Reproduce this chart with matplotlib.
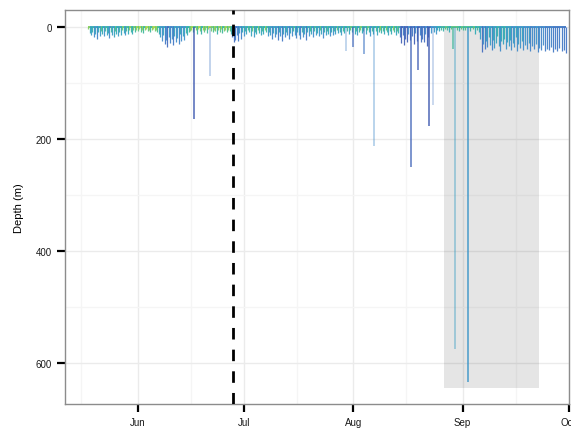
import matplotlib
matplotlib.use("Agg")
import matplotlib.pyplot as plt
import matplotlib.dates as mdates
from matplotlib.colors import LinearSegmentedColormap
from matplotlib.patches import Rectangle
import numpy as np

plt.rcParams['font.family'] = ['Liberation Sans', 'DejaVu Sans']

# days since 1 May, max depth (m), colour value (0 = dark blue, 1 = yellow-green)
diveDays = [17.0, 17.4, 17.8, 18.2, 18.6, 19.0, 19.4, 19.8, 20.2, 20.6, 21.0, 21.4, 21.8, 22.2, 22.6,
            23.0, 23.4, 23.8, 24.2, 24.6, 25.0, 25.4, 25.8, 26.2, 26.6, 27.0, 27.4, 27.8, 28.2, 28.6,
            29.0, 29.4, 29.8, 30.2, 30.6,
            31.0, 31.4, 31.8, 32.2, 32.6, 33.0, 33.4, 33.8, 34.2, 34.6, 35.0, 35.4, 35.8, 36.2, 36.6,
            37.0, 37.4, 37.8, 38.2, 38.6, 39.0, 39.4, 39.8, 40.2, 40.6, 41.0, 41.4, 41.8, 42.2, 42.6,
            43.0, 43.4, 43.8, 44.2, 44.6, 45.0, 45.4,
            45.8, 46.2, 46.6, 47.4, 47.8, 48.2, 48.6, 49.0, 49.4, 49.8, 50.2, 50.6, 51.0, 51.8, 52.2,
            52.6, 53.0, 53.4, 53.8, 54.2, 54.6, 55.0, 55.4, 55.8, 56.2, 56.6, 57.0, 57.4,
            57.8, 58.2, 58.6, 59.0, 59.4, 59.8, 60.2, 60.6, 61.0, 61.4, 61.8, 62.2,
            62.6, 63.0, 63.4, 63.8, 64.2, 64.6, 65.0, 65.4, 65.8, 66.2, 66.6, 67.0, 67.4, 67.8, 68.2,
            68.6, 69.0, 69.4, 69.8, 70.2, 70.6, 71.0, 71.4, 71.8, 72.2, 72.6, 73.0, 73.4, 73.8, 74.2,
            74.6, 75.0, 75.4, 75.8, 76.2,
            76.6, 77.0, 77.4, 77.8, 78.2, 78.6, 79.0, 79.4, 79.8, 80.2, 80.6, 81.0, 81.4, 81.8, 82.2,
            82.6, 83.0, 83.4, 83.8, 84.2, 84.6, 85.0, 85.4, 85.8, 86.2, 86.6, 87.0, 87.4, 87.8,
            88.2, 88.6, 89.0, 89.4, 90.4, 90.8, 91.2, 91.6, 92.4, 92.8, 93.2, 93.6, 94.0, 94.4, 94.8,
            95.6, 96.0, 96.4, 96.8, 97.2, 97.6, 98.4, 98.8, 99.2, 99.6, 100.0, 100.4, 100.8, 101.2,
            101.6, 102.0, 102.4, 102.8, 103.2, 103.6, 104.0, 104.4, 104.8,
            105.2, 105.6, 106.0, 106.4, 106.8, 107.2, 107.6, 108.0, 108.8, 109.2, 109.6, 110.0, 110.8,
            111.2, 111.6, 112.0, 112.4, 112.8, 113.2, 114.0, 115.0, 115.4, 115.8, 116.2,
            116.8, 117.4, 118.0, 118.6, 119.2, 119.8, 121.4, 122.0, 122.6, 123.2, 123.8, 125.2, 125.8,
            126.4, 127.0, 127.6,
            128.0, 128.4, 128.8, 129.2, 129.6, 130.0, 130.4, 130.8, 131.2, 131.6, 132.0, 132.4, 132.8,
            133.2, 133.6, 134.0, 134.4, 134.8, 135.2, 135.6, 136.0, 136.4, 136.8, 137.2, 137.6, 138.0,
            138.4, 138.8, 139.2, 139.7, 140.2, 140.7, 141.2, 141.7, 142.2, 142.7, 143.2, 143.7, 144.2,
            144.7, 145.2, 145.7, 146.2, 146.8, 147.4, 148.0, 148.6, 149.2, 149.8, 150.4, 151.0, 151.6,
            152.2]
diveDepth = [3, 10, 14, 8, 18, 12, 20, 9, 15, 6, 11, 16, 7, 13, 10,
             19, 8, 14, 17, 6, 12, 15, 9, 13, 5, 10, 14, 7, 11, 4,
             8, 12, 5, 9, 4,
             6, 3, 8, 4, 10, 5, 3, 7, 4, 9, 5, 3, 6, 4, 8,
             12, 18, 25, 14, 30, 22, 35, 17, 28, 20, 32, 15, 26, 19, 30,
             12, 24, 16, 22, 10, 14, 8,
             6, 4, 9, 5, 11, 3, 7, 12, 4, 8, 5, 10, 3, 6, 9,
             4, 7, 12, 5, 8, 3, 10, 6, 4, 9, 5, 7, 11,
             18, 27, 22, 14, 25, 10, 20, 8, 16, 6, 12, 5,
             9, 15, 6, 18, 8, 12, 5, 10, 14, 7, 11, 4, 9, 16, 8,
             13, 20, 10, 17, 12, 22, 9, 15, 24, 11, 18, 8, 14, 21, 10,
             16, 7, 13, 19, 9,
             14, 20, 8, 17, 11, 23, 9, 15, 6, 12, 18, 7, 14, 10, 16,
             5, 12, 19, 8, 14, 6, 11, 16, 9, 13, 7, 12, 5, 10,
             8, 13, 6, 10, 7, 12, 5, 9, 11, 6, 14, 8, 4, 10, 7,
             12, 5, 9, 15, 7, 11, 6, 13, 8, 4, 10, 6, 12, 5,
             9, 14, 7, 11, 4, 8, 13, 6, 10,
             18, 28, 14, 32, 20, 26, 12, 22, 16, 30, 10, 24, 14,
             27, 20, 27, 12, 33, 18, 10, 8, 12, 5, 7,
             4, 6, 3, 5, 8, 3, 4, 6, 3, 5, 4, 6, 3,
             12, 5, 8,
             20, 44, 30, 38, 25, 35, 18, 32, 40, 22, 36, 28, 16,
             34, 42, 24, 30, 20, 38, 26, 33, 22, 40, 28, 35, 18,
             42, 30, 36, 25, 40, 32, 38, 28, 42, 34, 39, 30, 44,
             36, 40, 32, 43, 38, 41, 35, 44, 39, 42, 37, 43, 40,
             45]
diveColour = [0.8, 0.5, 0.4, 0.55, 0.3, 0.45, 0.25, 0.5, 0.4, 0.7, 0.5, 0.35, 0.6, 0.45, 0.5,
              0.3, 0.6, 0.4, 0.45, 0.7, 0.5, 0.4, 0.55, 0.45, 0.75, 0.5, 0.35, 0.65, 0.5, 0.8,
              0.6, 0.5, 0.75, 0.6, 0.85,
              0.7, 0.9, 0.65, 0.85, 0.6, 0.8, 0.9, 0.7, 0.85, 0.6, 0.8, 0.9, 0.75, 0.85, 0.65,
              0.5, 0.4, 0.3, 0.45, 0.2, 0.35, 0.15, 0.4, 0.25, 0.35, 0.2, 0.45, 0.3, 0.4, 0.25,
              0.5, 0.3, 0.45, 0.35, 0.6, 0.5, 0.65,
              0.75, 0.85, 0.65, 0.8, 0.6, 0.9, 0.75, 0.55, 0.85, 0.7, 0.8, 0.6, 0.9, 0.75, 0.65,
              0.85, 0.75, 0.55, 0.8, 0.7, 0.9, 0.6, 0.75, 0.85, 0.65, 0.8, 0.7, 0.55,
              0.2, 0.15, 0.2, 0.3, 0.2, 0.4, 0.25, 0.5, 0.35, 0.6, 0.45, 0.65,
              0.55, 0.45, 0.7, 0.4, 0.6, 0.5, 0.75, 0.55, 0.45, 0.65, 0.5, 0.8, 0.6, 0.35, 0.55,
              0.4, 0.25, 0.45, 0.3, 0.4, 0.2, 0.5, 0.35, 0.2, 0.45, 0.3, 0.55, 0.35, 0.25, 0.45,
              0.3, 0.6, 0.4, 0.25, 0.5,
              0.35, 0.25, 0.55, 0.3, 0.45, 0.2, 0.5, 0.35, 0.65, 0.45, 0.3, 0.6, 0.4, 0.5, 0.35,
              0.7, 0.45, 0.3, 0.55, 0.4, 0.65, 0.5, 0.3, 0.5, 0.35, 0.6, 0.4, 0.7, 0.45,
              0.55, 0.4, 0.65, 0.5, 0.6, 0.45, 0.7, 0.55, 0.5, 0.65, 0.4, 0.6, 0.75, 0.5, 0.6,
              0.45, 0.7, 0.55, 0.35, 0.6, 0.5, 0.65, 0.45, 0.6, 0.8, 0.55, 0.65, 0.5, 0.75,
              0.6, 0.45, 0.65, 0.5, 0.8, 0.6, 0.45, 0.7, 0.55,
              0.2, 0.1, 0.25, 0.1, 0.15, 0.1, 0.3, 0.15, 0.2, 0.1, 0.3, 0.15, 0.25,
              0.15, 0.2, 0.15, 0.3, 0.1, 0.2, 0.35, 0.4, 0.35, 0.5, 0.45,
              0.6, 0.55, 0.7, 0.6, 0.5, 0.7, 0.65, 0.55, 0.7, 0.6, 0.65, 0.55, 0.7,
              0.5, 0.6, 0.5,
              0.4, 0.15, 0.35, 0.2, 0.45, 0.3, 0.5, 0.4, 0.25, 0.5, 0.4, 0.45, 0.55,
              0.4, 0.3, 0.5, 0.45, 0.55, 0.35, 0.45, 0.4, 0.5, 0.3, 0.4, 0.35, 0.5,
              0.3, 0.4, 0.35, 0.45, 0.3, 0.35, 0.3, 0.4, 0.25, 0.3, 0.28, 0.35, 0.25,
              0.3, 0.25, 0.3, 0.22, 0.25, 0.22, 0.25, 0.2, 0.22, 0.2, 0.22, 0.2, 0.2,
              0.18]

# the few deep dives
deepDays = [47.0, 51.5, 90.0, 92.0, 95.1, 97.9, 108.3, 110.4, 113.6, 114.6, 120.3, 120.9, 124.6]
deepDepth = [164, 87, 42, 35, 48, 212, 250, 76, 176, 139, 39, 575, 633]
deepColour = [0.08, 0.2, 0.25, 0.15, 0.2, 0.3, 0.12, 0.1, 0.08, 0.2, 0.6, 0.42, 0.36]
deepAlpha = [0.9, 0.4, 0.4, 0.8, 0.7, 0.45, 0.85, 0.85, 0.9, 0.35, 0.8, 0.5, 0.9]

startDate = "2019-05-01"
deployDay = 58.1          # dashed line
shadeDays = [117.6, 144.6]
shadeDepth = 645

cmap = LinearSegmentedColormap.from_list(
    "dive", ["#3a43a0", "#3d6cc0", "#3a8fcc", "#2aa8b6", "#45bd88", "#8fd050", "#c8dc38"])

t0 = mdates.date2num(np.datetime64(startDate))
days = t0 + np.array(diveDays)
deep = t0 + np.array(deepDays)
cols = cmap(np.array(diveColour))

fig = plt.figure(figsize=(5.71, 4.35), dpi=100)
ax = fig.add_axes([0.1138, 0.069, 0.882, 0.9057])

ax.add_patch(Rectangle((t0 + shadeDays[0], 0), shadeDays[1] - shadeDays[0], shadeDepth,
                       facecolor="black", alpha=0.1, edgecolor="none", zorder=1.5))

# surface stretches between dives, then the dives
ax.hlines(np.zeros(len(days) - 1), days[:-1], days[1:], colors=cols[:-1], lw=1.3, zorder=2)
ax.vlines(days, 0, diveDepth, colors=cols, lw=0.9, alpha=0.9, zorder=3)
for d, dep, c, a in zip(deep, deepDepth, deepColour, deepAlpha):
    ax.vlines(d, 0, dep, colors=[cmap(c)], lw=1.1, alpha=a, zorder=3)

ax.axvline(t0 + deployDay, color="black", lw=2, dashes=(4.15, 3.65), zorder=4)

ax.set_xlim(mdates.date2num(np.datetime64("2019-05-11T10")), mdates.date2num(np.datetime64("2019-10-01")))
ax.set_ylim(673, -31)
ax.xaxis.set_major_locator(mdates.MonthLocator())
ax.xaxis.set_major_formatter(mdates.DateFormatter("%b"))
ax.xaxis.set_minor_locator(mdates.MonthLocator(bymonthday=16))
ax.set_yticks([0, 200, 400, 600])
ax.set_yticks([100, 300, 500], minor=True)

ax.set_axisbelow(True)
ax.grid(which="major", color="#ebebeb", lw=1)
ax.grid(which="minor", color="#f5f5f5", lw=1)
ax.tick_params(which="major", direction="out", length=5.5, width=1.6, color="black",
               labelsize=7, pad=4, labelcolor="#1a1a1a")
ax.tick_params(which="minor", length=0)
for s in ax.spines.values():
    s.set_color("#8c8c8c")
    s.set_linewidth(1)

ax.set_ylabel("Depth (m)", fontsize=8, labelpad=8)

fig.savefig("out.png", dpi=100)
